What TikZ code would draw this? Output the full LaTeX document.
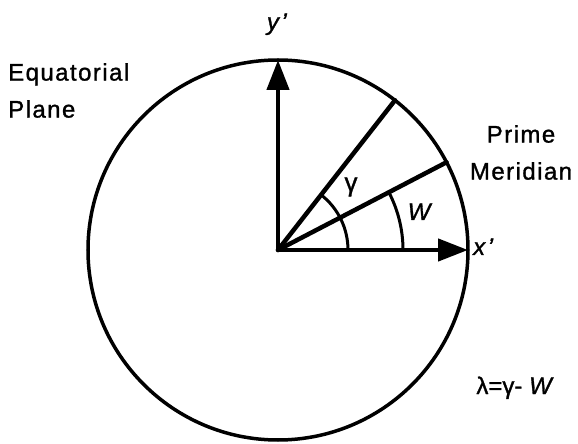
\documentclass[tikz,border=0pt]{standalone}
\usepackage{fontspec}
\setmainfont[FakeBold=1.2]{Liberation Sans}
\newfontfamily\spacedfont[LetterSpace=6, FakeBold=1.2]{Liberation Sans}
\usepackage{tikz}
\usetikzlibrary{arrows.meta, positioning}

\begin{document}
\begin{tikzpicture}[x=1pt, y=1pt,
    font=\fontsize{24}{37}\selectfont,
    axisline/.style={line width=4.5pt, -{Triangle[length=30pt, width=22pt]}},
    ray/.style={line width=4.5pt, line cap=round},
    anglearc/.style={line width=3pt},
    lbl/.style={inner sep=0pt}]
  \useasboundingbox (-278,-194) rectangle (300,250);
  % equatorial plane and the two axes
  \coordinate (O) at (0,0);
  \draw[line width=3.5pt] (O) circle (190);
  \coordinate (ytip) at (90:190);
  \coordinate (xtip) at (0:190);
  \draw[axisline] (O) -- (ytip);
  \draw[axisline] (O) -- (xtip);
  % prime meridian and the gamma direction
  \coordinate (gtip) at (52:190);
  \coordinate (wtip) at (27.5:190);
  \draw[ray] (O) -- (gtip);
  \draw[ray] (O) -- (wtip);
  \draw[anglearc] (70,0) arc[start angle=0, end angle=52, radius=70];
  \draw[anglearc] (125,0) arc[start angle=0, end angle=27.5, radius=125];
  % labels
  \node[lbl, anchor=base] (ylab) at (-1,220) {\textit{y\kern2.5pt'}};
  \node[lbl, anchor=base west] (xlab) at (195,-5) {\textit{x\kern2.5pt'}};
  \node[lbl] (glab) at (73,63) {\fontsize{26}{30}\selectfont γ};
  \node[lbl, anchor=base] (wlab) at (142,30) {\textit{W}};
  \node[lbl, anchor=north west, align=left] (plane) at (-270,187)
    {\spacedfont Equatorial\\\spacedfont Plane};
  \node[lbl, anchor=north, align=center] (prime) at (243,125)
    {\spacedfont Prime\\\spacedfont Meridian};
  \node[lbl, anchor=base] (lambda) at (237,-144) {λ=γ- \textit{W}};
\end{tikzpicture}
\end{document}
